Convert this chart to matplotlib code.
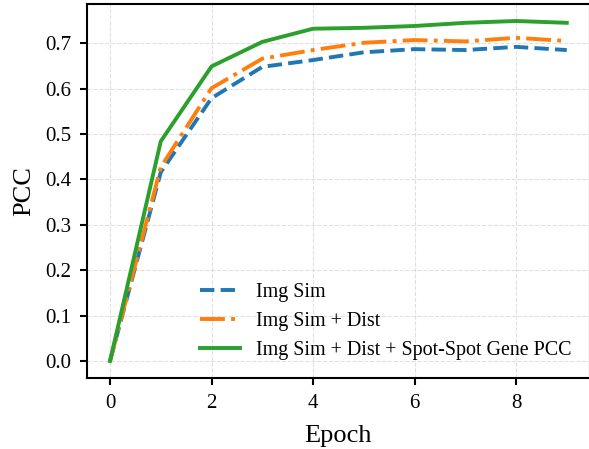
import matplotlib
matplotlib.use("Agg")
from matplotlib import pyplot as plt

epochs = [0, 1, 2, 3, 4, 5, 6, 7, 8, 9]
img_sim = [0.0, 0.416, 0.579, 0.648, 0.663, 0.680, 0.687, 0.685, 0.692, 0.685]
img_sim_dist = [0.0, 0.427, 0.601, 0.666, 0.685, 0.701, 0.707, 0.704, 0.712, 0.705]
img_sim_dist_pcc = [0.0, 0.484, 0.649, 0.703, 0.732, 0.734, 0.738, 0.745, 0.749, 0.745]

labels = ["Img Sim", "Img Sim + Dist", "Img Sim + Dist + Spot-Spot Gene PCC"]

plt.rcParams["font.family"] = ["Liberation Serif", "DejaVu Serif"]

fig = plt.figure(figsize=(5.89, 4.49), dpi=100)
ax = fig.add_axes([87.2 / 589, 71 / 449, 502.4 / 589, 374 / 449])

ax.plot(epochs, img_sim, "--", color="#1f77b4", lw=2.8, label=labels[0])
ax.plot(epochs, img_sim_dist, "-.", color="#ff7f0e", lw=2.8, label=labels[1])
ax.plot(epochs, img_sim_dist_pcc, "-", color="#2ca02c", lw=2.8, label=labels[2])

ax.set_xlabel("Epoch", fontsize=19, labelpad=9)
ax.set_ylabel("PCC", fontsize=19, labelpad=7)
ax.set_xticks(range(0, 10, 2))
ax.set_yticks([0.0, 0.1, 0.2, 0.3, 0.4, 0.5, 0.6, 0.7])
ax.tick_params(labelsize=15, width=1.5, length=5, pad=6.5)
for s in ax.spines.values():
    s.set_linewidth(1.5)
ax.grid(True, linestyle="--", color="#ccc", alpha=0.6)
ax.legend(loc="lower right", frameon=False, fontsize=14.4)

fig.savefig("out.png", dpi=100)
